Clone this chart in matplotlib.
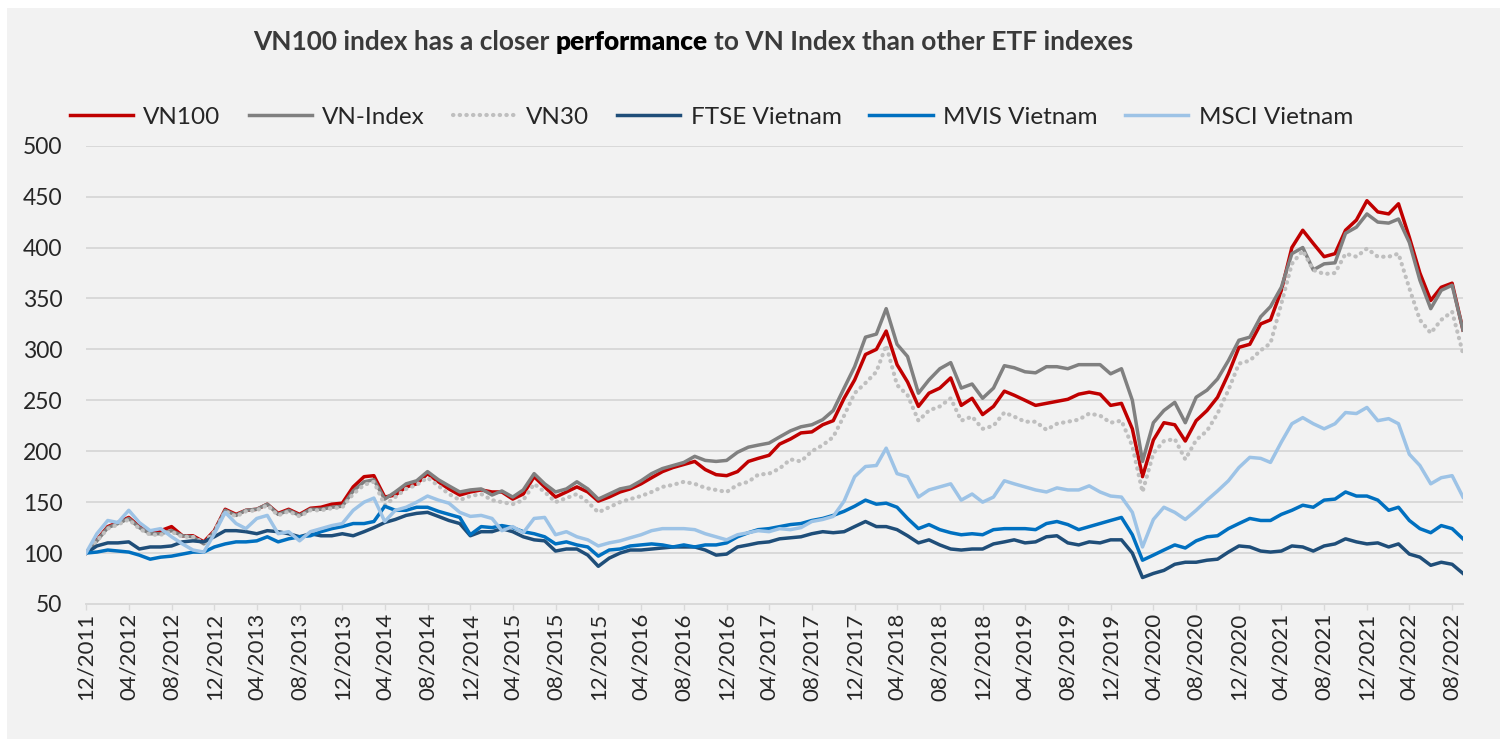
import numpy as np
import pandas as pd
import matplotlib
matplotlib.use('Agg')
import matplotlib.pyplot as plt
import matplotlib.dates as mdates
from matplotlib.patches import Rectangle

plt.rcParams['font.family'] = ['Lato', 'DejaVu Sans']

# monthly readings, 12/2011 .. 09/2022 (rebased to 100)
dates = pd.date_range('2011-12-01', periods=130, freq='MS')

vn100 = [100, 113, 126, 130, 135, 126, 120, 122, 126, 117, 117, 111, 122, 143, 138, 142, 143, 148, 139, 143, 138, 144, 145, 148, 149, 165,
         175, 176, 155, 157, 165, 168, 178, 170, 163, 157, 160, 162, 160, 160, 153, 158, 175, 165, 155, 160, 165, 160, 151, 155, 160, 163,
         168, 174, 180, 184, 187, 190, 182, 177, 176, 180, 190, 193, 196, 207, 212, 218, 219, 226, 230, 252, 270, 295, 300, 318, 285, 268,
         244, 257, 262, 272, 245, 252, 236, 244, 259, 255, 250, 245, 247, 249, 251, 256, 258, 256, 245, 247, 222, 175, 211, 228, 226, 210,
         230, 240, 253, 276, 302, 305, 325, 329, 358, 400, 417, 404, 391, 394, 417, 427, 446, 435, 433, 443, 410, 375, 348, 361, 365, 319]

vn_index = [100, 112, 125, 129, 134, 125, 119, 119, 122, 117, 116, 109, 121, 142, 137, 142, 143, 148, 138, 142, 137, 143, 143, 145, 146, 161,
            170, 172, 153, 160, 168, 171, 180, 172, 166, 160, 162, 163, 157, 161, 155, 162, 178, 168, 160, 163, 170, 163, 153, 158, 163, 165,
            171, 178, 183, 186, 189, 195, 191, 190, 191, 199, 204, 206, 208, 214, 220, 224, 226, 231, 240, 262, 283, 312, 315, 340, 305, 293,
            257, 270, 281, 287, 262, 266, 252, 262, 284, 282, 278, 277, 283, 283, 281, 285, 285, 285, 276, 281, 250, 190, 228, 240, 248, 228,
            253, 260, 271, 289, 309, 312, 332, 342, 361, 394, 400, 378, 384, 385, 414, 420, 433, 425, 424, 428, 405, 368, 340, 358, 363, 319]

vn30 = [100, 112, 124, 128, 133, 124, 118, 118, 121, 116, 116, 110, 121, 141, 136, 141, 142, 147, 137, 141, 136, 142, 142, 144, 145, 158,
        167, 170, 147, 155, 163, 167, 174, 166, 158, 152, 156, 158, 152, 150, 148, 152, 168, 160, 150, 154, 158, 150, 140, 145, 150, 153,
        156, 160, 165, 167, 170, 168, 164, 162, 160, 167, 170, 177, 178, 183, 192, 190, 200, 206, 214, 235, 257, 267, 278, 304, 265, 255,
        230, 240, 244, 252, 230, 234, 222, 225, 238, 234, 229, 229, 221, 227, 229, 231, 237, 235, 228, 230, 205, 160, 198, 210, 212, 192,
        211, 220, 237, 260, 286, 289, 299, 306, 345, 384, 397, 378, 374, 375, 394, 391, 399, 391, 391, 394, 360, 329, 316, 329, 337, 296]

ftse = [100, 107, 110, 110, 111, 104, 106, 106, 107, 111, 112, 111, 116, 122, 122, 121, 119, 122, 121, 119, 116, 119, 117, 117, 119, 117,
        121, 125, 130, 133, 137, 139, 140, 136, 132, 129, 117, 121, 121, 124, 121, 116, 113, 112, 102, 104, 104, 98, 87, 95, 100, 103,
        103, 104, 105, 106, 106, 106, 103, 98, 99, 106, 108, 110, 111, 114, 115, 116, 119, 121, 120, 121, 126, 131, 126, 126, 123, 117,
        110, 113, 108, 104, 103, 104, 104, 109, 111, 113, 110, 111, 116, 117, 110, 108, 111, 110, 113, 113, 100, 76, 80, 83, 89, 91,
        91, 93, 94, 101, 107, 106, 102, 101, 102, 107, 106, 102, 107, 109, 114, 111, 109, 110, 106, 109, 99, 96, 88, 91, 89, 80]

mvis = [100, 101, 103, 102, 101, 98, 94, 96, 97, 99, 101, 101, 106, 109, 111, 111, 112, 116, 111, 114, 116, 117, 121, 124, 126, 129,
        129, 131, 146, 142, 142, 145, 145, 141, 138, 135, 118, 126, 125, 127, 125, 121, 119, 116, 109, 111, 108, 106, 97, 103, 104, 107,
        108, 109, 108, 106, 108, 106, 108, 108, 110, 116, 120, 123, 124, 126, 128, 129, 132, 134, 137, 141, 146, 152, 148, 149, 145, 134,
        124, 128, 123, 120, 118, 119, 118, 123, 124, 124, 124, 123, 129, 131, 128, 123, 126, 129, 132, 135, 118, 93, 98, 103, 108, 105,
        112, 116, 117, 124, 129, 134, 132, 132, 138, 142, 147, 145, 152, 153, 160, 156, 156, 152, 142, 145, 132, 124, 120, 127, 124, 114]

msci = [100, 119, 132, 130, 142, 130, 122, 124, 116, 109, 103, 101, 119, 140, 129, 124, 134, 137, 119, 121, 112, 121, 124, 127, 129, 142,
        150, 154, 131, 142, 145, 150, 156, 152, 149, 140, 136, 137, 134, 122, 126, 120, 134, 135, 118, 121, 116, 113, 107, 110, 112, 115,
        118, 122, 124, 124, 124, 123, 119, 116, 113, 118, 120, 122, 121, 124, 123, 125, 131, 133, 136, 151, 175, 185, 186, 203, 178, 175,
        155, 162, 165, 168, 152, 158, 150, 155, 171, 168, 165, 162, 160, 164, 162, 162, 166, 160, 156, 155, 140, 106, 133, 145, 140, 133,
        142, 152, 161, 171, 184, 194, 193, 189, 209, 227, 233, 227, 222, 227, 238, 237, 243, 230, 232, 227, 197, 186, 168, 174, 176, 155]

W, H = 1507, 747
fig = plt.figure(figsize=(W / 100, H / 100), dpi=100)
fig.patch.set_facecolor('white')
fig.patches.append(Rectangle((7 / W, 8 / H), 1493 / W, 731 / H, transform=fig.transFigure,
                             facecolor='#F2F2F2', edgecolor='none', zorder=-10))

ax = fig.add_axes([86 / W, 1 - 604 / H, (1463 - 86) / W, (604 - 145.7) / H])
ax.set_facecolor('none')

lw = 2.5
ax.plot(dates, vn100, color='#C00000', lw=lw, label='VN100')
ax.plot(dates, vn_index, color='#808080', lw=lw, label='VN-Index')
ax.plot(dates, vn30, color='#BFBFBF', lw=3.0, linestyle=(0, (0.1, 1.5)),
        dash_capstyle='round', label='VN30')
ax.plot(dates, ftse, color='#1F4E79', lw=lw, label='FTSE Vietnam')
ax.plot(dates, mvis, color='#0070C0', lw=lw, label='MVIS Vietnam')
ax.plot(dates, msci, color='#9DC3E6', lw=lw, label='MSCI Vietnam')

ax.set_xlim(dates[0], dates[-1])
ax.set_ylim(50, 500)
ax.set_yticks(range(50, 501, 50))
ax.yaxis.grid(True, color='#D9D9D9', lw=1.4)
ax.set_axisbelow(True)
for s in ['top', 'right', 'left']:
    ax.spines[s].set_visible(False)
ax.spines['bottom'].set_color('#D9D9D9')
ax.spines['bottom'].set_linewidth(1.4)

ax.xaxis.set_major_locator(mdates.MonthLocator(bymonth=[4, 8, 12]))
ax.xaxis.set_major_formatter(mdates.DateFormatter('%m/%Y'))
ax.tick_params(axis='x', direction='out', length=4.5, width=1, color='#D9D9D9',
               pad=2, labelrotation=90, labelsize=16, labelcolor='#262626')
ax.tick_params(axis='y', length=0, pad=17, labelsize=16.5, labelcolor='#262626')

handles, labels = ax.get_legend_handles_labels()
fig.legend(handles, labels, loc='center left', bbox_to_anchor=(70 / W, 1 - 117 / H), ncol=6,
           frameon=False, fontsize=17.5, labelcolor='#262626', handlelength=2.6,
           handletextpad=0.42, columnspacing=1.15, borderpad=0, borderaxespad=0)

# title with one emphasised word
r = fig.canvas.get_renderer()
parts = [('VN100 index has a closer', 'bold', '#3A3A3A'),
         ('performance', 'heavy', 'black'),
         ('to VN Index than other ETF indexes', 'bold', '#3A3A3A')]


def text_w(s, size, weight):
    t = fig.text(0, 0, s, fontsize=size, fontweight=weight)
    w = t.get_window_extent(r).width
    t.remove()
    return w


size = 18
space = text_w('x x', size, 'bold') - text_w('xx', size, 'bold')
total = sum(text_w(p, size, wt) for p, wt, c in parts) + 2 * space
size = size * 880 / total
space = text_w('x x', size, 'bold') - text_w('xx', size, 'bold')
x = 253
for p, wt, c in parts:
    fig.text(x / W, 1 - 42 / H, p, fontsize=size, fontweight=wt, color=c, va='center', ha='left')
    x += text_w(p, size, wt) + space

fig.savefig('out.png', dpi=100)
